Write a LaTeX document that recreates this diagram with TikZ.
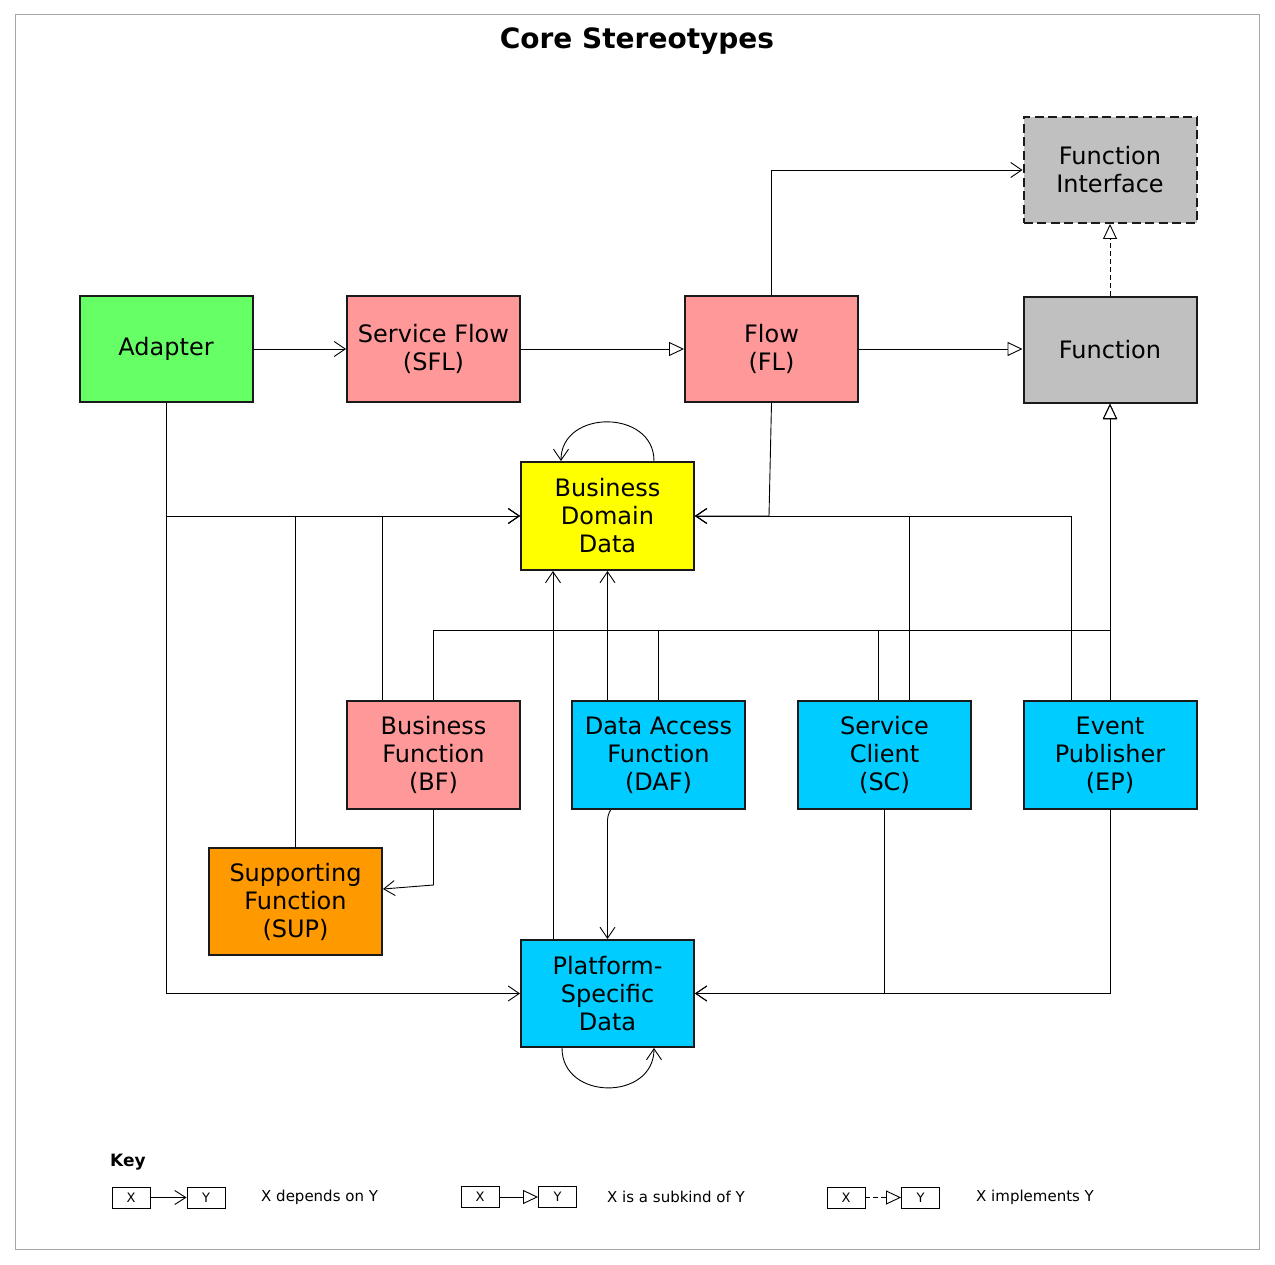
\documentclass[tikz,border=0pt]{standalone}
\usepackage{fontspec}
\setmainfont{DejaVu Sans}
\usetikzlibrary{arrows.meta,calc}
\definecolor{cgreen}{HTML}{66FF66}
\definecolor{cpink}{HTML}{FF9999}
\definecolor{cgray}{HTML}{C0C0C0}
\definecolor{cyellow}{HTML}{FFFF00}
\definecolor{ccyan}{HTML}{00CCFF}
\definecolor{corange}{HTML}{FF9900}
\definecolor{cborder}{HTML}{1A1A1A}
\tikzset{
  stbox/.style={draw=cborder, line width=2pt, rectangle, inner sep=0pt,
    minimum width=173pt, minimum height=106pt, align=center,
    font=\fontsize{24}{28}\selectfont},
  keybox/.style={draw=black, line width=0.9pt, rectangle, inner sep=0pt,
    minimum width=38pt, minimum height=21pt, font=\fontsize{13}{15}\selectfont},
  keytext/.style={anchor=west, inner sep=0pt, font=\fontsize{15}{17}\selectfont},
  conn/.style={draw=black, line width=0.9pt},
  dep/.style={conn, -{Straight Barb[length=11pt,width=15pt,line width=0.9pt]}},
  sub/.style={conn, -{Triangle[open,fill=white,length=15pt,width=14pt,line width=0.9pt]}},
  impl/.style={sub, dashed, dash pattern=on 5pt off 3pt},
}
\begin{document}
\begin{tikzpicture}[x=1pt,y=-1pt]
\useasboundingbox (0,0) rectangle (1275,1265);
\draw[gray!70, line width=1pt] (15,15) rectangle (1259,1249);
\node[font=\bfseries\fontsize{28}{32}\selectfont] (title) at (637,41) {Core Stereotypes};

% boxes
\node[stbox, fill=cgray, dashed, dash pattern=on 9pt off 4.5pt] (FI) at (1110,170) {Function\\Interface};
\node[stbox, fill=cgreen] (Adapter) at (166,349) {Adapter};
\node[stbox, fill=cpink] (SFL) at (433.5,349) {Service Flow\\(SFL)};
\node[stbox, fill=cpink] (FL) at (771.5,349) {Flow\\(FL)};
\node[stbox, fill=cgray] (Function) at (1110,350) {Function};
\node[stbox, fill=cyellow, minimum height=108pt] (BDD) at (607.5,516) {Business\\Domain\\Data};
\node[stbox, fill=cpink, minimum height=108pt] (BF) at (433.5,755) {Business\\Function\\(BF)};
\node[stbox, fill=ccyan, minimum height=108pt] (DAF) at (658.5,755) {Data Access\\Function\\(DAF)};
\node[stbox, fill=ccyan, minimum height=108pt] (SC) at (884.5,755) {Service\\Client\\(SC)};
\node[stbox, fill=ccyan, minimum height=108pt] (EP) at (1110,755) {Event\\Publisher\\(EP)};
\node[stbox, fill=corange, minimum height=107pt] (SUP) at (295.5,901.5) {Supporting\\Function\\(SUP)};
\node[stbox, fill=ccyan, minimum height=107pt] (PSD) at (607.5,993.5) {Platform-\\Specific\\Data};

\coordinate (flj) at (769,516);
\coordinate (bus) at (1110,630);
\coordinate (bfj) at (433.5,885);
\coordinate (dafj) at (607.5,816);

% top row
\draw[dep] (Adapter.east) -- (SFL.west);
\draw[sub] (SFL.east) -- (FL.west);
\draw[sub] (FL.east) -- (FL.east -| Function.west);
\draw[impl] (Function.north) -- (FI.south);
\draw[dep] (FL.north) |- (FI.west);

% self loops
\draw[dep] ([xshift=46.5pt]BDD.north) .. controls +(0,-52) and +(0,-52) .. ([xshift=-46.5pt]BDD.north);
\draw[dep] ([xshift=-45.5pt]PSD.south) .. controls +(0,53) and +(0,53) .. ([xshift=46.5pt]PSD.south);

% to Business Domain Data
\draw[dep] (Adapter.south) |- (BDD.west);
\draw[dep] (SUP.north) |- (BDD.west);
\draw[dep] ([xshift=-51pt]BF.north) |- (BDD.west);
\draw[dep] (FL.south) -- (flj) -- (BDD.east);
\draw[dep] ([xshift=24.5pt]SC.north) |- (BDD.east);
\draw[dep] ([xshift=-39pt]EP.north) |- (BDD.east);
\draw[dep] ([xshift=-54.5pt]PSD.north) -- ([xshift=-54.5pt]BDD.south);
\draw[dep] ([xshift=-51pt]DAF.north) -- (BDD.south);

% subkinds of Function
\draw[sub] (BF.north) |- (bus) -- (Function.south);
\draw[sub] (DAF.north) |- (bus) -- (Function.south);
\draw[sub] ([xshift=-6.5pt]SC.north) |- (bus) -- (Function.south);
\draw[sub] (EP.north) -- (Function.south);

% to Platform-Specific Data
\draw[dep] (Adapter.south) |- (PSD.west);
\draw[dep, rounded corners=4pt] ([xshift=-48pt]DAF.south) -- (dafj) -- (PSD.north);
\draw[dep] (SC.south) |- (PSD.east);
\draw[dep] (EP.south) |- (PSD.east);

% BF -> SUP
\draw[dep] (BF.south) -- (bfj) -- ($(SUP.east)+(0,-12.5)$);

% key
\node[anchor=west, inner sep=0pt, font=\bfseries\fontsize{17}{19}\selectfont] (keyt) at (110,1162) {Key};
\node[keybox] (kx1) at (131,1197.5) {X};
\node[keybox] (ky1) at (206,1197.5) {Y};
\draw[conn, -{Straight Barb[length=11pt,width=14pt,line width=0.9pt]}] (kx1) -- (ky1);
\node[keytext] (kt1) at (261,1197) {X depends on Y};
\node[keybox] (kx2) at (480,1197) {X};
\node[keybox] (ky2) at (557.5,1197) {Y};
\draw[sub] (kx2) -- (ky2);
\node[keytext] (kt2) at (607,1197) {X is a subkind of Y};
\node[keybox] (kx3) at (846,1197.5) {X};
\node[keybox] (ky3) at (920.5,1197.5) {Y};
\draw[impl] (kx3) -- (ky3);
\node[keytext] (kt3) at (976,1197) {X implements Y};
\end{tikzpicture}
\end{document}
